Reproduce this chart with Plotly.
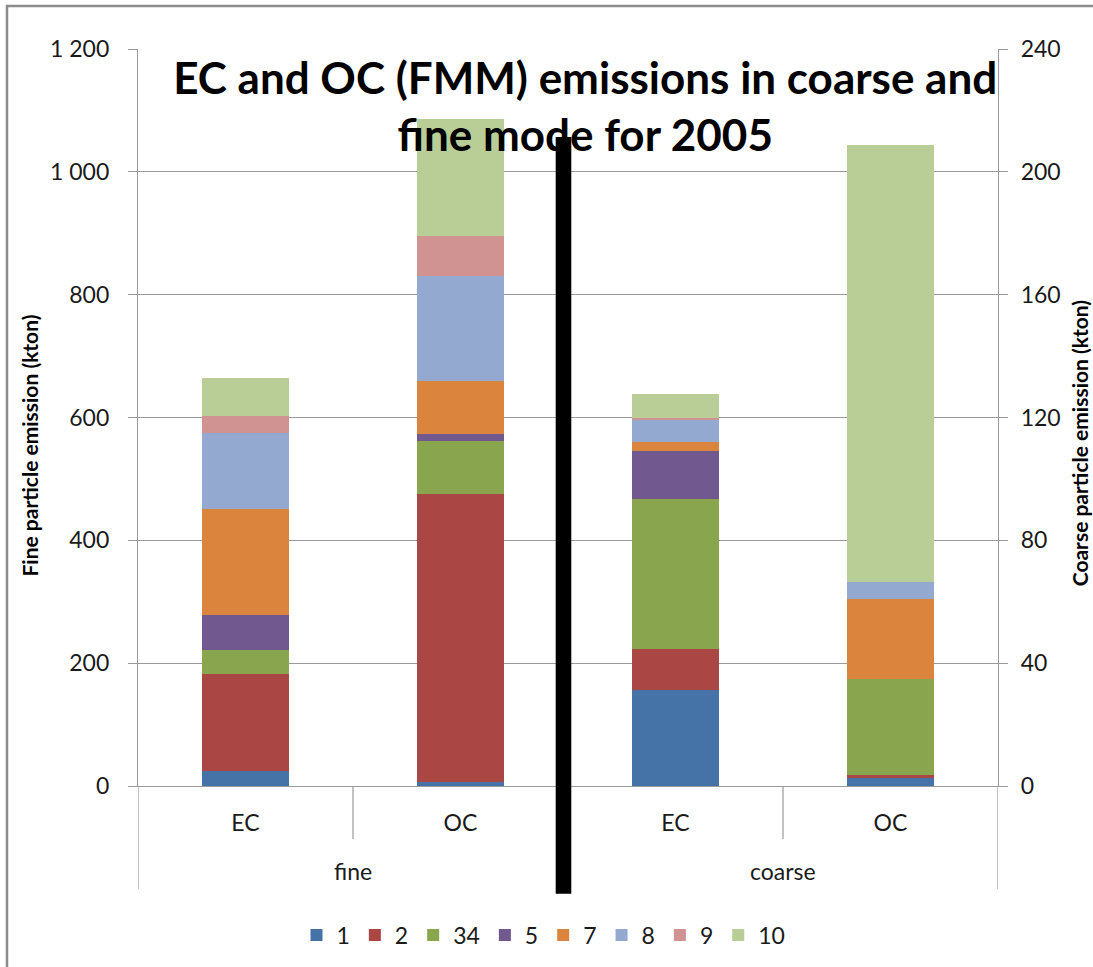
import plotly.graph_objects as go

# Source sectors (legend entries) and their bar colours
sectors = ["1", "2", "34", "5", "7", "8", "9", "10"]
colors = ["#4572A7", "#AA4643", "#89A54E", "#71588F",
          "#DB843D", "#93A9CF", "#D19392", "#B9CD96"]

# Categories along the x axis
species = ["EC", "OC"]
modes = ["fine", "coarse"]

# Fine-mode emissions (kton), per sector, for EC and OC
fine_ec = [24, 158, 40, 56, 173, 124, 28, 62]
fine_oc = [6, 470, 86, 11, 86, 172, 65, 190]

# Coarse-mode emissions (kton), per sector, for EC and OC
coarse_ec = [31.2, 13.4, 49.0, 15.4, 2.9, 7.3, 0.7, 7.9]
coarse_oc = [2.5, 1.0, 31.5, 0.0, 26.0, 5.4, 0.0, 142.4]

# Axis ticks
fine_ticks = [0, 200, 400, 600, 800, 1000, 1200]
fine_ticktext = ["0", "200", "400", "600", "800", "1 000", "1 200"]
coarse_ticks = [0, 40, 80, 120, 160, 200, 240]

FONT = "Lato"
GRID = "#9a9a9a"
TXT = "#1a1a1a"

x_fine = [0, 1]
x_coarse = [2, 3]

fig = go.Figure()
for i, name in enumerate(sectors):
    fig.add_trace(go.Bar(
        x=x_fine, y=[fine_ec[i], fine_oc[i]], name=name,
        marker=dict(color=colors[i], line=dict(width=0)),
        width=0.405, legendgroup=name, yaxis="y",
    ))
for i, name in enumerate(sectors):
    fig.add_trace(go.Bar(
        x=x_coarse, y=[coarse_ec[i], coarse_oc[i]], name=name,
        marker=dict(color=colors[i], line=dict(width=0)),
        width=0.405, legendgroup=name, showlegend=False, yaxis="y2",
    ))

fig.update_layout(
    width=1093, height=967,
    margin=dict(l=138, r=95, t=49, b=180),
    paper_bgcolor="white", plot_bgcolor="white",
    barmode="stack",
    font=dict(family=FONT, size=23, color=TXT),
    title=dict(
        text="EC and OC (FMM) emissions in coarse and<br>fine mode for 2005",
        font=dict(family=FONT, size=44, color="black", weight="bold"),
        x=0.52, xref="paper", xanchor="center",
        y=1 - 94 / 967, yref="container", yanchor="middle",
    ),
    xaxis=dict(
        range=[-0.5, 3.5], tickmode="array",
        tickvals=x_fine + x_coarse, ticktext=species + species,
        showgrid=False, zeroline=False, showline=True,
        linecolor=GRID, linewidth=1.2, ticks="",
        ticklabelstandoff=16,
        tickfont=dict(family=FONT, size=23, color=TXT),
    ),
    yaxis=dict(
        range=[0, 1200], tickmode="array",
        tickvals=fine_ticks, ticktext=fine_ticktext,
        showgrid=True, gridcolor=GRID, gridwidth=1.2,
        zeroline=False, showline=True, linecolor=GRID, linewidth=1.2,
        ticks="outside", ticklen=9, tickcolor=GRID, tickwidth=1.2,
        ticklabelstandoff=14,
        tickfont=dict(family=FONT, size=23, color=TXT),
    ),
    yaxis2=dict(
        range=[0, 240], tickmode="array", tickvals=coarse_ticks,
        overlaying="y", side="right",
        showgrid=False, zeroline=False, showline=True,
        linecolor=GRID, linewidth=1.2,
        ticks="outside", ticklen=9, tickcolor=GRID, tickwidth=1.2,
        ticklabelstandoff=8,
        tickfont=dict(family=FONT, size=23, color=TXT),
    ),
    legend=dict(
        orientation="h", traceorder="normal",
        x=0.4715, xanchor="center", y=-0.2005, yanchor="middle",
        font=dict(family=FONT, size=23, color=TXT),
        itemwidth=30, bgcolor="rgba(0,0,0,0)",
    ),
    bargap=0.5,
)

# Outer labels for the two size modes
for xm, label in zip([0.5, 2.5], modes):
    fig.add_annotation(
        x=xm, y=(787 - 872) / 738, xref="x", yref="paper",
        text=label, showarrow=False, yanchor="middle",
        font=dict(family=FONT, size=23, color=TXT),
    )

# Axis titles
fig.add_annotation(
    x=(30 - 138) / 860, y=0.462, xref="paper", yref="paper",
    text="Fine particle emission (kton)", textangle=-90, showarrow=False,
    xanchor="center", yanchor="middle",
    font=dict(family=FONT, size=21, color="black", weight="bold"),
)
fig.add_annotation(
    x=(1079 - 138) / 860, y=0.465, xref="paper", yref="paper",
    text="Coarse particle emission (kton)", textangle=-90, showarrow=False,
    xanchor="center", yanchor="middle",
    font=dict(family=FONT, size=21, color="black", weight="bold"),
)

# Category divider lines below the x axis
for xd, yb in [(-0.5, -0.1396), (0.5, -0.0718), (1.5, -0.1396),
               (2.5, -0.0718), (3.5, -0.1396)]:
    fig.add_shape(type="line", xref="x", yref="paper",
                  x0=xd, x1=xd, y0=0, y1=yb,
                  line=dict(color=GRID, width=1.2))

# Heavy separator between fine and coarse groups
fig.add_shape(type="line", xref="x", yref="paper",
              x0=1.479, x1=1.479, y0=-0.1463, y1=0.8807,
              line=dict(color="black", width=15.6), layer="above")

# Chart-area frame
fig.add_shape(type="rect", xref="paper", yref="paper",
              x0=(7 - 138) / 860, x1=1.3, y0=-0.5, y1=(787 - 6) / 738,
              line=dict(color="#8c8c8c", width=2.5), fillcolor="rgba(0,0,0,0)")

fig.write_html("out.html")
